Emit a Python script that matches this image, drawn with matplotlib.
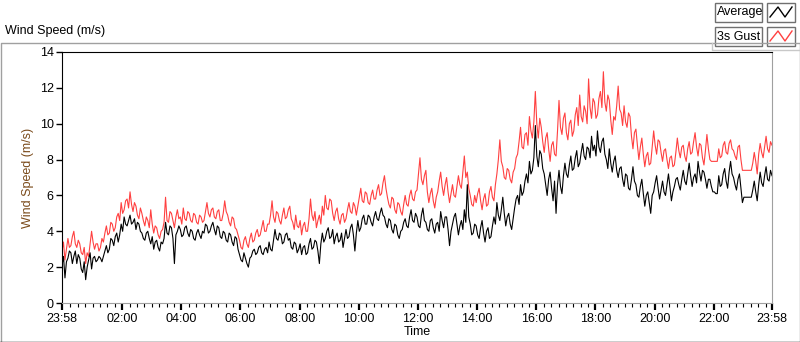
import matplotlib
matplotlib.use("Agg")
import matplotlib.pyplot as plt
from matplotlib.patches import Rectangle
from matplotlib.lines import Line2D
import numpy as np

plt.rcParams['font.family'] = ['Liberation Sans', 'DejaVu Sans']

# Wind speed (m/s), one sample every 3 minutes starting 23:58 (one row = 2 hours)
avg_speed = [
    2.1, 2.6, 1.4, 2.3, 2.5, 2.9, 2.8, 2.2, 2.6, 2.9, 2.2, 2.7, 2.5, 1.9, 1.7, 2.3, 1.3, 2.0, 2.4, 2.8,
    1.9, 2.5, 2.6, 2.3, 2.4, 2.6, 2.5, 2.3, 2.6, 2.9, 3.2, 2.8, 3.0, 3.6, 3.5, 3.2, 3.7, 3.9, 3.4, 3.8,
    4.4, 4.0, 4.8, 4.4, 4.3, 4.6, 4.9, 4.4, 4.5, 4.7, 4.1, 4.5, 4.4, 4.0, 3.9, 3.6, 3.5, 3.9, 4.0, 3.6,
    3.3, 3.7, 3.0, 3.4, 3.5, 3.1, 2.9, 3.4, 3.3, 3.6, 4.5, 3.9, 3.8, 4.3, 4.2, 3.6, 2.2, 3.8, 4.0, 4.3,
    4.1, 3.7, 3.8, 4.2, 4.3, 3.9, 3.7, 4.1, 4.0, 3.6, 3.5, 3.9, 4.1, 3.8, 3.6, 4.0, 3.9, 4.4, 4.3, 3.9,
    4.0, 4.3, 4.5, 4.1, 3.8, 4.3, 4.2, 3.7, 3.6, 4.0, 3.9, 3.5, 3.4, 3.9, 3.8, 3.4, 3.2, 3.7, 3.6, 3.0,
    2.7, 2.4, 2.3, 2.8, 2.5, 2.2, 2.0, 2.5, 2.6, 2.9, 3.0, 2.7, 2.8, 3.1, 3.2, 2.8, 2.7, 3.0, 3.1, 2.8,
    3.4, 3.0, 2.9, 3.5, 4.1, 3.6, 3.5, 3.9, 3.8, 3.3, 3.4, 3.8, 3.9, 3.5, 3.6, 3.1, 3.0, 3.4, 3.3, 2.8,
    3.0, 3.3, 2.7, 3.1, 3.2, 2.7, 2.8, 3.3, 3.6, 3.0, 3.1, 3.5, 3.4, 2.9, 2.2, 3.3, 3.9, 3.4, 3.6, 4.0,
    4.2, 3.6, 3.7, 4.1, 3.3, 3.7, 3.9, 3.4, 3.5, 3.9, 3.1, 3.6, 4.1, 3.6, 3.7, 4.2, 4.4, 3.8, 2.9, 3.9,
    4.6, 4.0, 4.2, 4.7, 4.9, 4.4, 4.4, 4.9, 4.8, 4.5, 4.3, 4.8, 5.1, 4.7, 4.6, 5.0, 5.3, 4.9, 4.8, 4.4,
    4.2, 4.7, 4.6, 4.1, 3.9, 4.4, 4.3, 3.8, 3.6, 4.0, 4.1, 4.5, 4.7, 4.3, 4.2, 4.8, 5.2, 4.6, 4.5, 5.0,
    4.8, 4.3, 4.2, 4.9, 5.3, 4.6, 4.5, 4.1, 4.0, 4.6, 4.7, 4.2, 3.9, 4.4, 4.5, 4.0, 5.1, 4.6, 4.2, 4.8,
    4.8, 4.1, 3.2, 4.0, 4.4, 4.8, 5.0, 4.4, 3.8, 4.3, 4.6, 4.1, 5.2, 4.5, 6.6, 4.8, 4.4, 3.8, 3.9, 4.4,
    4.3, 3.8, 3.6, 4.2, 4.6, 3.9, 3.4, 4.0, 4.2, 3.6, 3.7, 4.3, 4.8, 4.4, 5.6, 4.9, 4.6, 5.2, 5.9, 5.0,
    4.3, 4.8, 5.0, 4.4, 4.1, 4.7, 5.3, 5.8, 6.0, 5.5, 6.6, 6.0, 6.2, 6.8, 7.2, 6.7, 7.9, 7.2, 7.4, 8.1,
    9.9, 8.2, 7.6, 8.5, 8.3, 7.5, 7.2, 6.6, 6.0, 6.9, 7.3, 6.4, 5.7, 6.8, 5.0, 6.6, 7.4, 6.5, 6.1, 7.1,
    7.8, 7.2, 7.0, 7.7, 8.2, 7.4, 7.5, 8.1, 8.5, 7.6, 7.8, 8.4, 8.9, 8.2, 8.0, 8.7, 8.6, 8.1, 9.3, 8.5,
    8.8, 8.2, 9.6, 8.7, 8.4, 9.0, 9.2, 8.3, 8.0, 7.5, 8.6, 7.8, 7.3, 7.9, 8.2, 7.4, 7.0, 7.5, 7.6, 6.9,
    6.5, 7.2, 7.1, 6.4, 6.3, 6.9, 7.6, 6.8, 6.6, 6.0, 5.9, 6.5, 6.9, 6.1, 5.4, 6.0, 6.2, 5.6, 5.0, 6.0,
    6.2, 6.7, 7.1, 6.4, 5.8, 6.3, 6.8, 6.2, 6.0, 6.6, 7.2, 6.5, 5.7, 6.2, 6.5, 6.9, 7.0, 6.6, 6.3, 6.9,
    7.4, 6.8, 6.6, 7.2, 7.8, 7.1, 6.5, 7.0, 7.2, 6.7, 7.9, 7.3, 6.8, 7.4, 7.3, 6.9, 6.4, 6.9, 6.9, 6.5,
    6.2, 6.2, 6.1, 6.1, 7.1, 6.5, 6.6, 7.2, 7.5, 6.8, 6.4, 7.3, 7.9, 7.2, 7.0, 6.6, 6.3, 6.9, 7.2, 6.4,
    5.6, 5.9, 5.9, 5.9, 5.9, 5.9, 5.9, 6.3, 6.8, 6.2, 5.7, 6.6, 7.3, 6.7, 6.5, 7.1, 7.6, 6.9, 6.8, 7.4,
    7.1,
]
gust_speed = [
    2.9, 3.4, 2.4, 3.0, 3.6, 3.1, 3.2, 3.7, 4.0, 3.3, 3.1, 3.5, 3.3, 2.8, 2.7, 3.1, 2.2, 2.8, 2.6, 3.3,
    4.0, 3.4, 3.0, 3.3, 3.3, 2.9, 3.1, 3.6, 3.4, 3.9, 4.3, 3.8, 3.9, 4.5, 4.4, 4.0, 4.2, 4.8, 5.0, 4.6,
    5.6, 5.0, 5.2, 5.7, 5.8, 5.3, 6.2, 5.5, 5.1, 5.6, 5.4, 4.9, 4.7, 5.3, 5.0, 4.6, 4.3, 4.8, 4.6, 4.2,
    5.2, 4.4, 3.9, 4.3, 4.2, 3.8, 3.6, 4.0, 4.1, 4.5, 5.9, 4.6, 4.5, 5.1, 5.0, 4.6, 4.2, 4.8, 5.2, 4.7,
    4.8, 4.4, 5.3, 4.7, 4.6, 5.1, 5.0, 4.6, 4.5, 5.0, 4.9, 4.5, 4.4, 4.9, 4.8, 4.5, 4.6, 5.1, 5.6, 5.0,
    4.8, 5.2, 5.3, 4.8, 4.7, 5.1, 5.2, 4.6, 4.6, 5.0, 5.7, 5.1, 4.9, 4.5, 4.3, 4.8, 4.7, 4.2, 4.1, 3.8,
    3.5, 3.1, 3.0, 3.5, 3.7, 3.3, 3.1, 3.6, 3.9, 3.4, 3.5, 3.9, 4.1, 3.7, 3.8, 4.2, 4.6, 4.0, 4.0, 4.4,
    4.4, 4.9, 5.7, 4.8, 4.5, 5.1, 5.0, 4.6, 4.4, 4.9, 5.3, 4.7, 4.8, 5.2, 5.4, 4.7, 4.5, 4.1, 4.9, 4.3,
    4.2, 4.6, 3.8, 4.3, 4.5, 4.0, 4.0, 4.7, 5.8, 4.9, 4.6, 5.1, 4.2, 4.6, 4.9, 4.4, 5.4, 4.9, 6.0, 5.3,
    5.2, 5.8, 5.7, 5.0, 4.6, 5.1, 5.3, 4.7, 4.4, 4.9, 5.0, 4.5, 4.7, 5.2, 5.6, 5.1, 5.0, 5.6, 5.4, 4.9,
    5.4, 5.9, 6.4, 5.7, 5.6, 6.2, 6.1, 5.6, 5.5, 6.0, 6.3, 5.8, 5.8, 6.3, 6.6, 6.0, 6.1, 6.7, 7.1, 6.4,
    5.9, 5.5, 5.3, 5.9, 5.8, 5.2, 5.0, 5.6, 5.5, 5.1, 4.9, 5.5, 6.0, 5.5, 5.4, 6.0, 6.3, 5.8, 5.7, 6.2,
    6.3, 7.2, 8.1, 6.9, 6.6, 7.1, 7.4, 6.2, 5.6, 6.1, 6.4, 5.7, 5.3, 5.9, 6.2, 6.8, 7.3, 6.5, 6.0, 6.6,
    7.0, 6.2, 5.6, 6.1, 6.6, 6.0, 5.9, 6.5, 7.1, 6.6, 6.4, 7.3, 8.2, 7.0, 7.3, 6.4, 6.0, 5.5, 5.4, 6.0,
    5.6, 6.1, 6.4, 5.7, 5.2, 5.8, 6.1, 5.4, 5.5, 6.2, 6.5, 5.9, 5.7, 6.6, 7.2, 8.0, 9.1, 7.9, 7.6, 7.0,
    6.9, 7.5, 7.4, 6.9, 6.7, 7.3, 7.5, 8.1, 8.3, 9.0, 9.8, 8.7, 8.6, 9.4, 9.5, 8.8, 10.4, 9.6, 9.2, 10.1,
    11.8, 10.0, 9.2, 10.3, 9.8, 9.0, 8.4, 9.2, 9.5, 8.6, 7.9, 8.8, 9.0, 8.3, 8.2, 9.6, 11.3, 9.8, 9.4, 10.3,
    10.6, 9.5, 9.1, 10.0, 10.2, 9.3, 9.6, 10.5, 10.9, 9.9, 11.6, 10.4, 10.1, 11.0, 10.7, 10.0, 12.5, 10.9, 10.3, 11.4,
    11.2, 10.3, 10.5, 11.4, 11.8, 10.9, 12.9, 11.2, 10.7, 11.6, 11.3, 10.2, 9.4, 10.4, 10.2, 11.0, 12.1, 10.8, 10.6, 9.9,
    11.0, 10.1, 9.8, 10.6, 10.4, 9.3, 8.6, 9.5, 9.7, 8.8, 8.0, 8.7, 9.2, 8.3, 7.6, 8.2, 8.4, 7.7, 7.8, 8.7,
    9.6, 8.8, 8.3, 9.1, 9.0, 8.4, 7.9, 8.5, 8.6, 8.0, 7.5, 8.1, 8.2, 7.6, 7.7, 8.4, 9.2, 8.5, 8.1, 8.7,
    8.8, 8.2, 7.9, 8.6, 9.0, 8.3, 8.4, 9.0, 9.5, 8.7, 8.2, 8.9, 8.8, 8.1, 7.7, 8.5, 9.4, 8.6, 8.0, 7.9,
    7.9, 7.9, 7.9, 7.9, 8.6, 8.1, 8.2, 8.8, 9.0, 8.4, 8.3, 8.9, 9.1, 8.6, 8.5, 8.2, 8.0, 8.7, 8.8, 8.0,
    7.4, 7.4, 7.4, 7.4, 7.4, 7.4, 7.4, 7.8, 8.4, 7.9, 7.2, 8.3, 8.9, 8.4, 8.1, 8.7, 9.3, 8.6, 8.4, 9.0,
    8.8,
]
minutes = np.arange(len(avg_speed)) * 3

tick_minutes = [0, 122, 242, 362, 482, 602, 722, 842, 962, 1082, 1202, 1322, 1440]
tick_labels = ['23:58', '02:00', '04:00', '06:00', '08:00', '10:00', '12:00',
               '14:00', '16:00', '18:00', '20:00', '22:00', '23:58']

W, H = 800, 342
fig = plt.figure(figsize=(W / 100, H / 100), dpi=100)
ax = fig.add_axes([62 / W, 1 - 303 / H, 710 / W, 251 / H])

ax.plot(minutes, gust_speed, color='#ff4040', lw=0.8)
ax.plot(minutes, avg_speed, color='black', lw=0.8)

ax.set_xlim(0, 1440)
ax.set_ylim(0, 14)
ax.set_yticks(range(0, 15, 2))
ax.set_xticks(tick_minutes)
ax.set_xticklabels(tick_labels)
ax.set_xticks(np.arange(17, 1440, 15), minor=True)
ax.tick_params(axis='both', labelsize=9, direction='out', colors='black', pad=2)
ax.tick_params(axis='x', which='major', length=5, width=1.6)
ax.tick_params(axis='x', which='minor', length=3, width=0.8)
ax.tick_params(axis='y', length=4, width=1)
for s in ['left', 'top']:
    ax.spines[s].set_color('black')
for s in ['right', 'bottom']:
    ax.spines[s].set_color('#a0a0a0')
ax.set_ylabel('Wind Speed (m/s)', fontsize=9, color='#7a4a1a', labelpad=4)
ax.set_xlabel('Time', fontsize=9, labelpad=1)


def px_line(xs, ys, **kw):
    fig.add_artist(Line2D([x / W for x in xs], [1 - y / H for y in ys],
                          transform=fig.transFigure, **kw))


def px_rect(x, y, w, h, **kw):
    fig.add_artist(Rectangle((x / W, 1 - (y + h) / H), w / W, h / H,
                             transform=fig.transFigure, **kw))


# outer frame
px_line([0.5, 0.5, 799.5, 799.5], [342, 42.5, 42.5, 342], color='#a0a0a0', lw=1)
px_line([0, 800], [341.5, 341.5], color='black', lw=1)
fig.text(5 / W, 1 - 31 / H, 'Wind Speed (m/s)', fontsize=9, va='center', ha='left')

# legend
px_rect(708, 0, 92, 49, facecolor='white', edgecolor='none')
px_line([712, 712, 800], [42.5, 49.5, 49.5], color='#c8c8c8', lw=1)
legend_items = [('Average', 'black'), ('3s Gust', '#ff4040')]
for i, (name, col) in enumerate(legend_items):
    y0 = 3 + i * 24
    px_rect(715, y0, 47, 19, facecolor='white', edgecolor='#707070', lw=1)
    fig.text(717 / W, 1 - (y0 + 9.5) / H, name, fontsize=9, va='center', ha='left')
    px_rect(767, y0, 28, 19, facecolor='white', edgecolor='#707070', lw=1)
    px_line([770, 778, 785, 792], [y0 + 14, y0 + 4, y0 + 14, y0 + 4], color=col, lw=1)

fig.savefig('out.png', dpi=100)
